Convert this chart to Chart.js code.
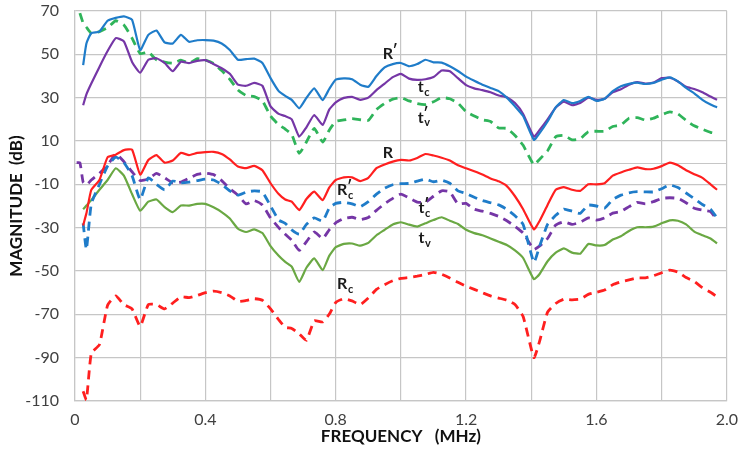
<!DOCTYPE html>
<html>
<head>
<meta charset="utf-8">
<script src="https://cdn.jsdelivr.net/npm/chart.js@4.4.0/dist/chart.umd.min.js"></script>
<style>
  html, body { margin: 0; padding: 0; background: #ffffff; }
  #wrap { width: 747px; height: 450px; }
</style>
</head>
<body>
<div id="wrap"><canvas id="chart" width="747" height="450"></canvas></div>
<script>
// Frequency sweep (MHz) shared by every trace
const freqMHz = [
  0.005, 0.015, 0.025, 0.035,
  0.05, 0.075, 0.1, 0.125, 0.15, 0.175, 0.2, 0.225, 0.25, 0.275,
  0.3, 0.325, 0.35, 0.375, 0.4, 0.425, 0.45, 0.475, 0.5, 0.525,
  0.55, 0.575, 0.6, 0.625, 0.645, 0.665, 0.688, 0.71, 0.734, 0.76, 0.78,
  0.8, 0.825, 0.85, 0.875, 0.9, 0.925, 0.95, 0.975, 1.0, 1.025,
  1.05, 1.075, 1.1, 1.125, 1.15, 1.175, 1.2, 1.225, 1.25, 1.275,
  1.3, 1.325, 1.35, 1.375, 1.408, 1.425, 1.45, 1.475, 1.5, 1.525,
  1.55, 1.575, 1.6, 1.625, 1.65, 1.675, 1.7, 1.725, 1.75, 1.775,
  1.8, 1.825, 1.85, 1.875, 1.9, 1.925, 1.95, 1.97
];

// Magnitudes in dB
const rPrime = [
  null, null, 45, 55,
  59.8, 60.5, 65.5, 66.8, 67.5, 66, 52, 59, 61, 55.5,
  55, 59, 55.8, 56.5, 56.6, 56.3, 55, 52, 47.5, 47.8,
  48, 46, 39, 33, 30.8, 29, 25.1, 29.9, 34.3, 28.9, 34,
  38.3, 38.9, 38.5, 36, 35, 40, 44, 45.5, 46, 44.5,
  45.5, 47.5, 46.3, 46.2, 44.5, 42.3, 39.7, 37.8, 36, 34.5,
  33, 30, 26, 21.5, 10.5, 13.5, 19, 25.5, 28.9, 27.5,
  28.5, 30.4, 28.5, 29.5, 33, 35.3, 36.4, 36.9, 36.3, 36.8,
  38.3, 39.4, 37.5, 34.5, 32, 29, 26.8, 25.5
];
const tC = [
  null, null, 26.5, 31.5,
  36.5, 44.2, 51.5, 57.5, 56, 46.5, 41.5, 47.5, 48.2, 46,
  42.2, 46.6, 45.9, 47, 47.3, 45.5, 43.6, 41, 36, 35.5,
  36.8, 35.5, 26, 22.5, 21.5, 20, 12, 16.3, 22, 17.4, 24.5,
  27.8, 29.9, 30.4, 29, 30, 33.5, 36.5, 39.5, 41, 38.8,
  38.2, 38.5, 39.5, 42.5, 42.2, 39, 35.8, 34.3, 33.5, 32.5,
  31, 30.2, 27.5, 22.5, 12, 15, 20, 25.5, 28.1, 26.5,
  27.5, 30, 29, 29.5, 32.5, 33.9, 36, 37.2, 36.5, 37,
  39, 39.2, 37.5, 35, 34, 32.5, 30.5, 29
];
const tVPrime = [
  null, 69, 64.5, 62.5,
  59.7, 60.5, 62.3, 65.5, 63.5, 57.5, 50.3, 51, 47.5, 46.4,
  45.9, 47.3, 45.9, 48, 47.3, 45.8, 42.5, 38.5, 33.5, 31,
  30.5, 28.5, 21.5, 17.5, 15.5, 13, 4.3, 9.5, 15.8, 9.5, 15,
  19, 19.7, 20.3, 19.8, 19.5, 24.5, 27.3, 29.3, 30, 28.5,
  27.3, 26.8, 28.1, 30, 29.5, 27.5, 23.5, 21.5, 19.8, 19,
  16, 15.8, 12.5, 8, -1, 1.5, 5.5, 12, 12.6, 10.5,
  11, 14.3, 14.5, 14.5, 16.7, 17.4, 20.5, 20.8, 19.7, 20.5,
  22.1, 23.4, 22.5, 19.5, 17, 15.4, 14, 13.3
];
const rPlain = [
  null, null, -29, -23.4,
  -12.6, -8, 2.5, 3.7, 5.8, 6, -5.5, 1.2, 3.5, 0,
  1, 4.5, 3.5, 4.5, 4.9, 5, 4, 1.5, -1.8, -2.5,
  -1.5, -3.5, -9.5, -14.5, -17, -18, -21.9, -16.8, -13.4, -17.3, -11.5,
  -8, -6.8, -6.8, -8.5, -7, -2.5, -0.8, 0.5, 1.3, 1,
  2.2, 4, 3.3, 2.3, 1, -1.2, -2.6, -4, -5.5, -7.3,
  -8.6, -10.8, -15.5, -21.5, -30.8, -27, -19.5, -12.5, -11.3, -12.5,
  -13, -10, -10, -9.5, -6, -4.5, -3.3, -2.2, -3, -2.8,
  -1.6, 0, -1.2, -3.5, -5.3, -7, -10, -12.5
];
const rcPrime = [
  null, null, -28, -40,
  -19, -10, -1.5, 2.5, 0, -6, -17, -7, -10, -12.5,
  -8.5, -9.3, -9, -8.3, -7.6, -8, -10, -13, -15, -13.6,
  -13, -13.5, -20, -26.5, -28, -31, -33, -28.5, -25.5, -27, -21,
  -18.8, -18.3, -19, -20.3, -18, -14.5, -11.8, -10.2, -9.7, -9.6,
  -8.5, -7.6, -8.8, -8.1, -9.5, -13, -14.2, -16, -17.5, -18.5,
  -19.5, -21.5, -24.5, -28.5, -46, -38.8, -28.5, -24.3, -21.4, -22.4,
  -23.4, -19.6, -20, -21, -17, -15, -13.9, -13.4, -13.5, -13.5,
  -12, -10.3, -11.5, -14, -16.6, -19.3, -21.5, -25.5
];
const tcPrime = [
  0, 0, -9, -10.3,
  -8, -4.9, -1.2, 4, 0.5, -4.2, -8.2, -7.5, -4.9, -7,
  -9.3, -9, -7.2, -5.4, -4.8, -5.5, -8.3, -12, -15, -19,
  -17.5, -19.5, -25.5, -30, -33, -35.8, -40.5, -36.5, -32, -35, -31,
  -27.8, -25.8, -25.2, -26.3, -25.3, -22, -19, -16.5, -14.5, -16.3,
  -18.2, -18.3, -15.5, -13, -13.5, -19, -18.8, -21.5, -22.4, -23.4,
  -24.8, -26.8, -29.4, -32.5, -40, -38.5, -35, -28.8, -27.3, -28.5,
  -27.5, -25.5, -26.5, -25.5, -23.3, -22.5, -20.3, -18.3, -19, -18,
  -16.5, -16.2, -16.5, -18.5, -21, -21.9, -22.6, -26.5
];
const tV = [
  null, null, -21.5, -19.8,
  -17.3, -12.5, -8, -2.6, -6, -14.5, -22.2, -18, -17, -20.5,
  -22.8, -19.8, -19.8, -19, -19, -20.6, -22.8, -25.8, -30.5, -32,
  -30.8, -32.5, -38.5, -43, -45.8, -48, -55, -48.5, -44.2, -49.6, -43,
  -39, -37.5, -37.3, -38.3, -37, -33.5, -31, -28.5, -27.5, -28.6,
  -29.5, -28, -26.5, -25.2, -26.8, -28.3, -31, -32.5, -33.5, -35,
  -36.5, -38, -40.5, -44, -53.8, -51.5, -45.5, -41.5, -39.6, -41.5,
  -42, -37.5, -38.2, -38, -35.5, -34, -31.5, -29.8, -29.8, -29.5,
  -28, -26.6, -26.8, -28.5, -31.8, -33.5, -35, -37.3
];
const rC = [
  null, null, -105.5, -109.5,
  -88, -84, -65.8, -61.5, -65.5, -67.5, -75.5, -65.5, -65.5, -67.5,
  -64.8, -61.9, -62.3, -61.3, -60, -59.3, -60, -61.5, -64, -63.6,
  -62.8, -63.5, -67.5, -72.5, -76, -76.5, -79, -82, -73, -73.5, -70,
  -64.5, -62.8, -63.8, -65.5, -62.5, -58.5, -56.3, -54.5, -53.4, -53,
  -52.4, -51.6, -50.6, -51.5, -53.2, -55.2, -57, -58.5, -60, -61.5,
  -62.5, -63.5, -65.5, -71, -90, -82.7, -69, -65, -63, -63.3,
  -63, -60.8, -59.8, -58.8, -56.3, -55, -54.1, -53.2, -53.2, -52.2,
  -50.8, -49.6, -50.5, -53, -54.8, -57.7, -59.8, -61.9
];

// Curve tags placed in data coordinates
const curveTags = [
  { base: 'R', prime: true,  sub: '',  f: 0.960, db: 50.2 },
  { base: 't', prime: false, sub: 'c', f: 1.061, db: 34.9 },
  { base: 't', prime: true,  sub: 'v', f: 1.061, db: 20.8 },
  { base: 'R', prime: false, sub: '',  f: 0.960, db: 4.7 },
  { base: 'R', prime: true,  sub: 'c', f: 0.820, db: -12.7 },
  { base: 't', prime: true,  sub: 'c', f: 1.063, db: -21.0 },
  { base: 't', prime: false, sub: 'v', f: 1.063, db: -34.8 },
  { base: 'R', prime: false, sub: 'c', f: 0.820, db: -56.0 }
];

const GRID = '#c6c6c6';
const BLUE = '#1f7cc9';
const PURPLE = '#7536a6';
const LIGHTGREEN = '#2fb45a';
const RED = '#ff1f1f';
const GREEN = '#6aa843';
const DASH = [9, 6];

function toPoints(values) {
  const pts = [];
  values.forEach((v, i) => { if (v !== null) pts.push({ x: freqMHz[i], y: v }); });
  return pts;
}

function trace(label, values, color, dashed) {
  return {
    label,
    data: toPoints(values),
    borderColor: color,
    backgroundColor: color,
    borderWidth: dashed ? 2.8 : 2.2,
    borderDash: dashed ? DASH : [],
    pointRadius: 0,
    tension: 0.15,
    fill: false
  };
}

const zeroLine = {
  id: 'zeroLine',
  beforeDatasetsDraw(chart) {
    const { ctx, chartArea, scales } = chart;
    const y = Math.round(scales.y.getPixelForValue(0)) + 0.5;
    ctx.save();
    ctx.strokeStyle = GRID;
    ctx.lineWidth = 1.2;
    ctx.beginPath();
    ctx.moveTo(chartArea.left, y);
    ctx.lineTo(chartArea.right, y);
    ctx.stroke();
    ctx.restore();
  }
};

const tagPlugin = {
  id: 'curveTags',
  afterDatasetsDraw(chart) {
    const { ctx, scales } = chart;
    ctx.save();
    ctx.fillStyle = '#1a1a1a';
    ctx.textBaseline = 'middle';
    curveTags.forEach(t => {
      const x = scales.x.getPixelForValue(t.f);
      const y = scales.y.getPixelForValue(t.db);
      ctx.font = 'bold 16px Lato';
      ctx.textAlign = 'center';
      ctx.fillText(t.base, x, y);
      const w = ctx.measureText(t.base).width;
      ctx.textAlign = 'left';
      if (t.prime) {
        ctx.font = 'bold 15px Lato';
        ctx.fillText('\u2032', x + w / 2 - 0.5, y - 4);
      }
      if (t.sub) {
        ctx.font = 'bold 11px Lato';
        ctx.fillText(t.sub, x + w / 2 + 0.5, y + 5);
      }
    });
    ctx.restore();
  }
};

new Chart(document.getElementById('chart'), {
  type: 'line',
  data: {
    datasets: [
      trace("R'", rPrime, BLUE, false),
      trace('t_c', tC, PURPLE, false),
      trace("t'_v", tVPrime, LIGHTGREEN, true),
      trace('R', rPlain, RED, false),
      trace("R'_c", rcPrime, BLUE, true),
      trace("t'_c", tcPrime, PURPLE, true),
      trace('t_v', tV, GREEN, false),
      trace('R_c', rC, RED, true)
    ]
  },
  options: {
    responsive: false,
    animation: false,
    devicePixelRatio: 1,
    layout: { padding: { top: 11, right: 15, bottom: 0, left: 0 } },
    plugins: { legend: { display: false }, tooltip: { enabled: false } },
    scales: {
      x: {
        type: 'linear',
        min: 0,
        max: 2,
        afterFit(scale) { scale.height = 49; },
        border: { display: true, color: GRID, width: 1.2 },
        grid: { color: GRID, lineWidth: 1.2, drawTicks: false },
        ticks: {
          stepSize: 0.2,
          padding: 9,
          color: '#404040',
          font: { family: 'Lato', size: 16 },
          maxRotation: 0,
          autoSkip: false,
          callback(value) {
            const v = Math.round(value * 10);
            if (v % 4 !== 0) return '';
            return v === 0 ? '0' : (v / 10).toFixed(1);
          }
        },
        title: {
          display: true,
          text: 'FREQUENCY   (MHz)',
          color: '#111111',
          font: { family: 'Lato', size: 17, weight: 'bold' },
          padding: { top: 2, bottom: 3 }
        }
      },
      y: {
        min: -110,
        max: 70,
        afterFit(scale) {
          scale.width = 75;
          scale.paddingTop = 0;
          scale.paddingBottom = 0;
        },
        border: { display: true, color: GRID, width: 1.2 },
        grid: { color: GRID, lineWidth: 1.2, drawTicks: false },
        ticks: {
          stepSize: 20,
          padding: 16,
          color: '#404040',
          font: { family: 'Lato', size: 16 }
        },
        title: {
          display: true,
          text: 'MAGNITUDE  (dB)',
          color: '#111111',
          font: { family: 'Lato', size: 17, weight: 'bold' },
          padding: { top: 6, bottom: 0 }
        }
      }
    }
  },
  plugins: [zeroLine, tagPlugin]
});
</script>
</body>
</html>
